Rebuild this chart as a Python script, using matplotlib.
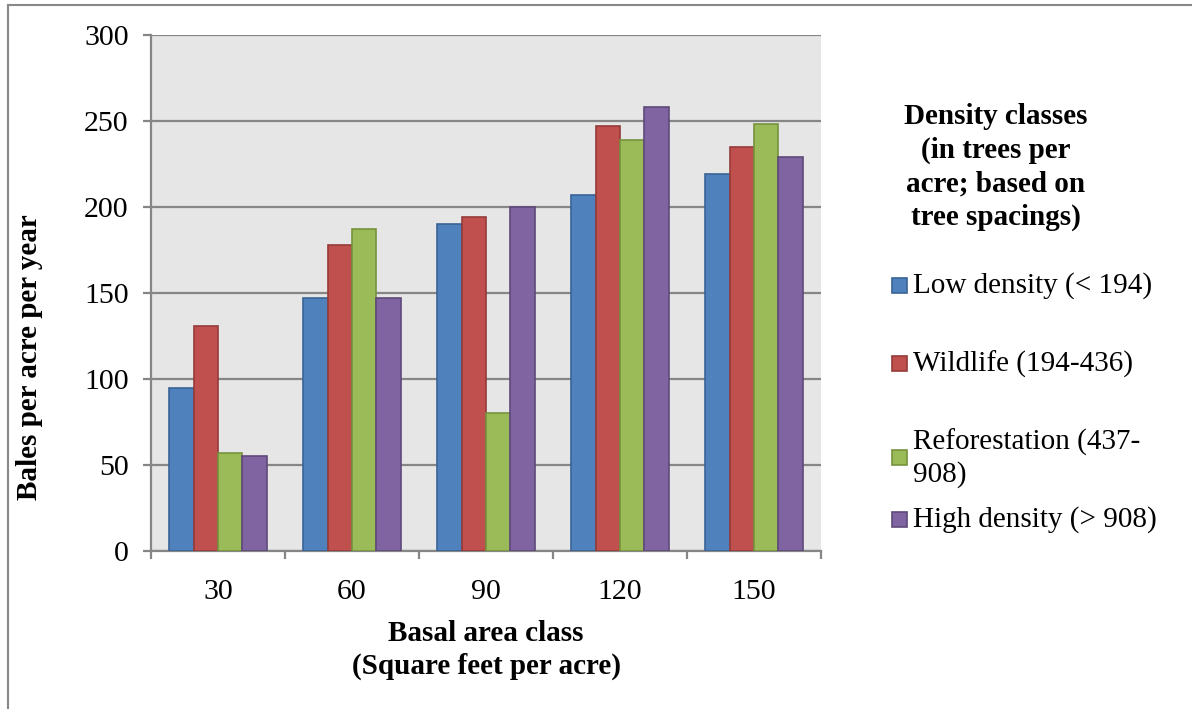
import numpy as np
import matplotlib
matplotlib.use('Agg')
import matplotlib.pyplot as plt
from matplotlib.patches import Rectangle
from matplotlib.lines import Line2D

# dados
categorias = ['30', '60', '90', '120', '150']
baixa_densidade = [95, 147, 190, 207, 219]
vida_selvagem = [131, 178, 194, 247, 235]
reflorestamento = [57, 187, 80, 239, 248]
alta_densidade = [55, 147, 200, 258, 229]

series = [baixa_densidade, vida_selvagem, reflorestamento, alta_densidade]
nomes = ['Low density (< 194)', 'Wildlife (194-436)',
         'Reforestation (437-\n908)', 'High density (> 908)']
cores = ['#4F81BD', '#C0504D', '#9BBB59', '#8064A2']
bordas = ['#3A6496', '#943B39', '#76923C', '#5F497A']

plt.rcParams['font.family'] = ['Liberation Serif', 'DejaVu Serif']

W, H = 1192, 709
fig = plt.figure(figsize=(W / 100, H / 100), dpi=100)
ax = fig.add_axes([151 / W, 1 - 551 / H, (821 - 151) / W, (551 - 35) / H])

x = np.arange(len(categorias))
larg = 1 / 5.5
for i, vals in enumerate(series):
    ax.bar(x + (i - 1.5) * larg, vals, larg, color=cores[i],
           edgecolor=bordas[i], linewidth=1.2, zorder=3)

ax.set_facecolor('#E6E6E6')
ax.set_xlim(-0.5, len(categorias) - 0.5)
ax.set_ylim(0, 300)
ax.set_yticks(np.arange(0, 301, 50))
ax.yaxis.grid(True, color='#868686', linewidth=1.6, zorder=1)
ax.set_axisbelow(True)
for s in ['top', 'right']:
    ax.spines[s].set_visible(False)
for s in ['left', 'bottom']:
    ax.spines[s].set_color('#868686')
    ax.spines[s].set_linewidth(1.6)

ax.set_xticks(x)
ax.set_xticklabels(categorias)
ax.set_xticks(np.arange(-0.5, len(categorias)), minor=True)
ax.tick_params(axis='x', which='major', length=0, pad=20, labelsize=21.5)
ax.tick_params(axis='x', which='minor', length=6, width=1.6, color='#868686')
ax.tick_params(axis='y', length=6, width=1.6, color='#868686', pad=10, labelsize=21.5)

ax.set_xlabel('Basal area class\n(Square feet per acre)', fontsize=21,
              fontweight='bold', labelpad=11, linespacing=1.25)
fig.text(30 / W, 1 - 357 / H, 'Bales per acre per year', rotation=90,
         fontsize=21, fontweight='bold', ha='center', va='center')

# legenda manual
fig.text(996 / W, 1 - 167 / H, 'Density classes\n(in trees per\nacre; based on\ntree spacings)',
         fontsize=21, fontweight='bold', ha='center', va='center', linespacing=1.3)
pos_y = [286, 364, 458, 520]
for i in range(4):
    fig.patches.append(Rectangle(((892) / W, 1 - (pos_y[i] + 7) / H), 15 / W, 15 / H,
                                 transform=fig.transFigure, facecolor=cores[i],
                                 edgecolor=bordas[i], linewidth=1.2))
    fig.text(913 / W, 1 - pos_y[i] / H, nomes[i], fontsize=21, ha='left',
             va='center', linespacing=1.25)

# moldura
fig.add_artist(Line2D([8 / W, 8 / W], [0, 1 - 5 / H], color='#888888', linewidth=1.5))
fig.add_artist(Line2D([8 / W, 1], [1 - 5 / H, 1 - 5 / H], color='#888888', linewidth=1.5))

fig.savefig('out.png', dpi=100)
